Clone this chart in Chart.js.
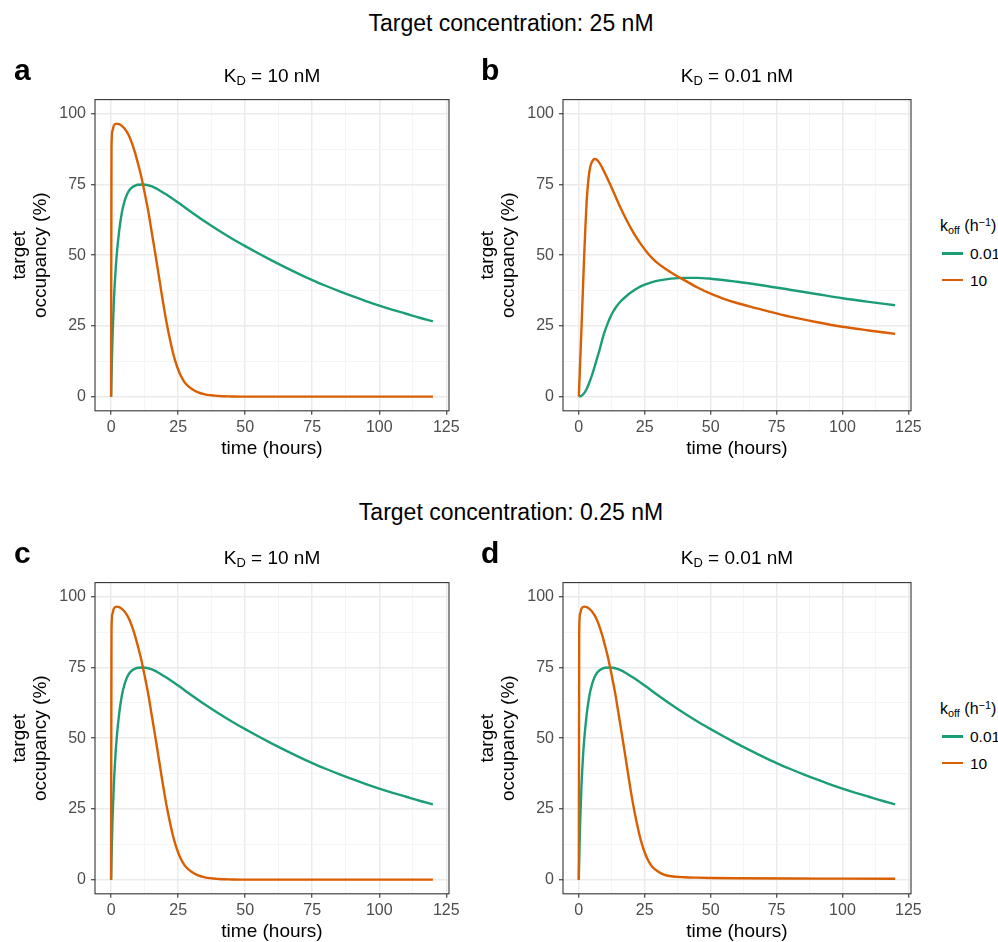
<!DOCTYPE html>
<html>
<head>
<meta charset="utf-8">
<script src="https://cdn.jsdelivr.net/npm/chart.js@4.4.1/dist/chart.umd.min.js"></script>
<style>
html,body{margin:0;padding:0;background:#fff;}
body{position:relative;width:998px;height:942px;overflow:hidden;font-family:"Liberation Sans",Arial,Helvetica,sans-serif;color:#000;}
.txt{position:absolute;white-space:nowrap;line-height:1;}
canvas{position:absolute;}
.sub{font-size:68%;position:relative;top:0.28em;line-height:0;}
.sup{font-size:68%;position:relative;top:-0.45em;line-height:0;}
.key{position:absolute;height:2.5px;width:21px;}
</style>
</head>
<body>
<script>
// ---------- chart values ----------
const targetConcs = ['25', '0.25'];
const panelLetters = ['a', 'b', 'c', 'd'];
const kdValues = ['10', '0.01', '10', '0.01'];
const seriesNames = ['0.01', '10'];          // k_off (h^-1)
const seriesColors = ['#1b9e77', '#d95f02'];

const xTickValues = [0, 25, 50, 75, 100, 125];
const yTickValues = [0, 25, 50, 75, 100];
const xMinorValues = [12.5, 37.5, 62.5, 87.5, 112.5];
const yMinorValues = [12.5, 37.5, 62.5, 87.5];

// panel a / c : KD = 10 nM
const tSlowA = [0, 0.25, 0.5, 1, 1.5, 2, 3, 4, 5, 6, 7, 8, 9, 10, 12, 15, 20, 25, 30, 35, 40, 45, 50, 55, 60, 65, 70, 75, 80, 85, 90, 95, 100, 105, 110, 115, 120];
const occSlowA = [0, 11, 20, 33, 42, 49, 58.5, 65, 69, 71.6, 73.2, 74.1, 74.6, 74.9, 75, 74.4, 71.8, 68.6, 65.2, 61.9, 58.8, 55.9, 53.2, 50.6, 48.1, 45.7, 43.4, 41.2, 39.2, 37.3, 35.5, 33.8, 32.2, 30.7, 29.3, 27.9, 26.6];
const tFastA = [0, 0.15, 0.5, 1, 2, 3, 4, 5, 6, 7, 8, 9, 10, 11, 12, 13, 14, 15, 16, 17, 18, 19, 20, 21, 22, 23, 24, 25, 26, 27, 28, 30, 32, 35, 40, 45, 50, 60, 80, 100, 120];
const occFastA = [0, 88, 94, 95.8, 96.5, 96.3, 95.7, 94.8, 93.4, 91.5, 89, 86, 82.5, 78.8, 74.5, 69.8, 64.8, 59, 53.3, 47.5, 41.5, 35.5, 29.8, 24.6, 20, 15.8, 12.4, 9.6, 7.4, 5.7, 4.4, 2.8, 1.7, 0.8, 0.25, 0.08, 0.02, 0, 0, 0, 0];

// panel b : KD = 0.01 nM
const tSlowB = [0, 1, 2, 3, 4, 5, 6, 7, 8, 9, 10, 11, 12, 13, 14, 16, 18, 20, 22.5, 25, 27.5, 30, 35, 40, 45, 50, 60, 70, 80, 90, 100, 110, 120];
const occSlowB = [0, 0.3, 1.2, 2.8, 5, 7.6, 10.6, 13.8, 17, 20.5, 23.5, 26, 28.2, 30, 31.5, 33.8, 35.5, 37, 38.5, 39.6, 40.4, 41, 41.7, 42, 42, 41.7, 40.6, 39.3, 37.8, 36.3, 34.8, 33.5, 32.3];
const tFastB = [0, 0.5, 1, 1.5, 2, 2.5, 3, 3.5, 4, 4.5, 5, 5.5, 6, 7, 8, 9, 10, 11, 12, 14, 16, 18, 20, 22, 24, 26, 28, 30, 32.5, 35, 37.5, 40, 45, 50, 55, 60, 65, 70, 80, 90, 100, 110, 120];
const occFastB = [0, 12, 24, 36.5, 49, 60, 69.5, 75.5, 79.5, 81.8, 83, 83.7, 84, 83.6, 82.4, 80.7, 78.8, 76.8, 74.8, 70.6, 66.4, 62.6, 59.1, 56, 53.3, 50.9, 48.8, 47.1, 45.4, 43.9, 42.5, 41.2, 38.6, 36.4, 34.6, 33.1, 31.8, 30.6, 28.3, 26.4, 24.7, 23.4, 22.2];

// panel d : KD = 0.01 nM, low target
const tFastD = [0, 0.15, 0.5, 1, 2, 3, 4, 5, 6, 7, 8, 9, 10, 11, 12, 13, 14, 15, 16, 17, 18, 19, 20, 21, 22, 23, 24, 25, 26, 27, 28, 30, 32, 35, 40, 45, 50, 60, 80, 100, 120];
const occFastD = [0, 88, 94, 95.8, 96.5, 96.3, 95.7, 94.8, 93.4, 91.5, 89, 86, 82.5, 78.8, 74.5, 69.8, 64.8, 59, 53.3, 47.5, 41.5, 35.5, 29.8, 24.6, 20, 15.8, 12.4, 9.6, 7.4, 5.7, 4.4, 2.9, 1.9, 1.2, 0.85, 0.7, 0.6, 0.5, 0.4, 0.35, 0.3];

const panelData = [
  {slowT: tSlowA, slowY: occSlowA, fastT: tFastA, fastY: occFastA},
  {slowT: tSlowB, slowY: occSlowB, fastT: tFastB, fastY: occFastB},
  {slowT: tSlowA, slowY: occSlowA, fastT: tFastA, fastY: occFastA},
  {slowT: tSlowA, slowY: occSlowA, fastT: tFastD, fastY: occFastD}
];

// ---------- layout (pixels) ----------
const canvasBoxes = [
  {left: 0,   top: 85,  width: 470, height: 385, padRight: 21, legend: false},
  {left: 468, top: 85,  width: 460, height: 385, padRight: 17, legend: true},
  {left: 0,   top: 568, width: 470, height: 385, padRight: 21, legend: false},
  {left: 468, top: 568, width: 460, height: 385, padRight: 17, legend: true}
];
const rowShift = 483;

Chart.defaults.font.family = '"Liberation Sans", Arial, sans-serif';

function addText(html, left, top, size, opts) {
  const d = document.createElement('div');
  d.className = 'txt';
  d.innerHTML = html;
  d.style.left = left + 'px';
  d.style.top = top + 'px';
  d.style.fontSize = size + 'px';
  if (opts) Object.assign(d.style, opts);
  document.body.appendChild(d);
  return d;
}

// main titles
targetConcs.forEach((c, r) => {
  addText('Target concentration: ' + c + ' nM', 0, 12.3 + r * 488.5, 23, {width: '1022px', textAlign: 'center'});
});

const framePlugin = {
  id: 'frame',
  afterDraw(chart) {
    const {ctx, chartArea: a} = chart;
    ctx.save();
    ctx.strokeStyle = '#333333';
    ctx.lineWidth = 1.1;
    ctx.strokeRect(a.left, a.top, a.right - a.left, a.bottom - a.top);
    ctx.restore();
  }
};

const isMajor = (v, list) => list.some(m => Math.abs(m - v) < 1e-6);

function axisCommon(majors) {
  return {
    grid: {
      color: c => isMajor(c.tick.value, majors) ? '#ebebeb' : '#f2f2f2',
      lineWidth: c => isMajor(c.tick.value, majors) ? 1.5 : 0.8,
      tickLength: 4,
      tickColor: c => isMajor(c.tick.value, majors) ? '#333333' : 'rgba(0,0,0,0)',
      tickWidth: 1.1,
      drawTicks: true
    },
    border: {display: false}
  };
}

panelData.forEach((p, i) => {
  const box = canvasBoxes[i];
  const cv = document.createElement('canvas');
  cv.width = box.width; cv.height = box.height;
  cv.style.left = box.left + 'px'; cv.style.top = box.top + 'px';
  cv.style.width = box.width + 'px'; cv.style.height = box.height + 'px';
  document.body.appendChild(cv);

  const xAll = xTickValues.concat(xMinorValues).sort((a, b) => a - b);
  const yAll = yTickValues.concat(yMinorValues).sort((a, b) => a - b);

  new Chart(cv, {
    type: 'line',
    data: {
      datasets: [
        {label: seriesNames[1], data: p.fastT.map((t, k) => ({x: t, y: p.fastY[k]})),
         borderColor: seriesColors[1], borderWidth: 2.4, order: 0, cubicInterpolationMode: 'monotone'},
        {label: seriesNames[0], data: p.slowT.map((t, k) => ({x: t, y: p.slowY[k]})),
         borderColor: seriesColors[0], borderWidth: 2.4, order: 1, cubicInterpolationMode: 'monotone'}
      ]
    },
    options: {
      responsive: false,
      animation: false,
      devicePixelRatio: 1,
      layout: {padding: {left: 0, right: box.padRight, top: 10.7, bottom: 0}},
      elements: {point: {radius: 0}},
      plugins: {legend: {display: false}, tooltip: {enabled: false}, title: {display: false}},
      scales: {
        x: Object.assign(axisCommon(xTickValues), {
          type: 'linear', min: -6, max: 126,
          afterBuildTicks: s => { s.ticks = xAll.map(v => ({value: v})); },
          afterFit: s => { s.height = 59.2; },
          ticks: {
            autoSkip: false, maxRotation: 0, color: '#4d4d4d', font: {size: 16}, padding: 3,
            callback: v => isMajor(v, xTickValues) ? String(v) : ''
          },
          title: {display: true, text: 'time (hours)', color: '#000', font: {size: 19}, padding: {top: 0, bottom: 10}}
        }),
        y: Object.assign(axisCommon(yTickValues), {
          type: 'linear', min: -5, max: 105,
          afterBuildTicks: s => { s.ticks = yAll.map(v => ({value: v})); },
          afterFit: s => { s.width = 95; },
          ticks: {
            autoSkip: false, color: '#4d4d4d', font: {size: 16}, padding: 5,
            callback: v => isMajor(v, yTickValues) ? String(v) : ''
          },
          title: {display: true, text: ['target', 'occupancy (%)'], color: '#000', font: {size: 19, lineHeight: 1.1}, padding: {top: 9.5, bottom: 0}}
        })
      }
    },
    plugins: [framePlugin]
  });

  const row = Math.floor(i / 2);
  const col = i % 2;
  const dy = row * rowShift;
  // panel letter
  addText(panelLetters[i], col === 0 ? 14 : 481, 55.3 + dy, 30, {fontWeight: 'bold'});
  // subtitle
  const cx = col === 0 ? 272 : 737;
  addText('K<span class="sub">D</span> = ' + kdValues[i] + ' nM', cx - 200, 65.7 + dy - (row ? 1 : 0), 19, {width: '400px', textAlign: 'center'});
  // legend
  if (box.legend) {
    addText('k<span class="sub">off</span> (h<span class="sup">\u22121</span>)', 940, 218.2 + dy, 16);
    seriesNames.forEach((name, k) => {
      const yc = 253.3 + k * 26.8 + dy;
      const key = document.createElement('div');
      key.className = 'key';
      key.style.left = '942px';
      key.style.top = (yc - 1.25) + 'px';
      key.style.background = seriesColors[k];
      document.body.appendChild(key);
      addText(name, 970, yc - 0.4885 * 15.5, 15.5);
    });
  }
});
</script>
</body>
</html>
